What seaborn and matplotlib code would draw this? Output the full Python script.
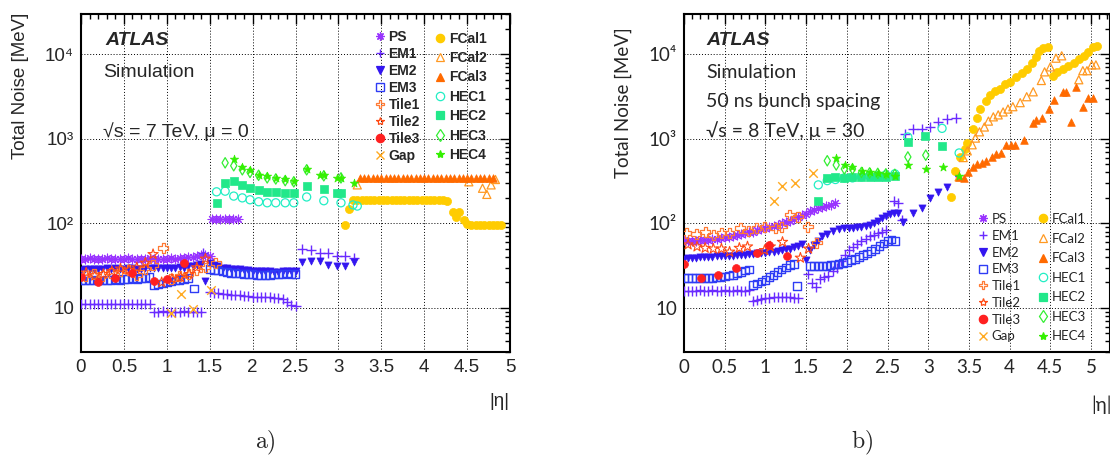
import matplotlib
matplotlib.use("Agg")
import matplotlib.pyplot as plt
import seaborn as sns
import numpy as np
from matplotlib.lines import Line2D
from matplotlib.ticker import MultipleLocator, LogLocator, NullFormatter

# ---------------- panel a): sqrt(s) = 7 TeV, mu = 0 ----------------
ps_a_eta = [0.0, 0.05, 0.1, 0.15, 0.2, 0.25, 0.3, 0.35, 0.4, 0.45, 0.5, 0.55, 0.6, 0.65, 0.7, 0.75,
            0.8, 0.85, 0.9, 0.95, 1.0, 1.05, 1.1, 1.15, 1.2, 1.25, 1.3, 1.35, 1.4, 1.45, 1.5,
            1.525, 1.575, 1.625, 1.675, 1.725, 1.775, 1.825]
ps_a = [38, 38, 39, 38, 38, 38, 39, 38, 38, 38, 38, 39, 38, 38, 38, 38, 39, 38, 38, 38,
        38, 39, 38, 39, 39, 40, 40, 41, 42, 42, 41, 112, 114, 113, 112, 113, 112, 111]
em1_a_eta = [0.0, 0.05, 0.1, 0.15, 0.2, 0.25, 0.3, 0.35, 0.4, 0.45, 0.5, 0.55, 0.6, 0.65, 0.7, 0.75, 0.8,
             0.85, 0.9, 0.95, 1.0, 1.05, 1.1, 1.15, 1.2, 1.25, 1.3, 1.35, 1.4, 1.425,
             1.5, 1.55, 1.6, 1.65, 1.7, 1.75, 1.8, 1.85, 1.9, 1.95, 2.0, 2.05, 2.1, 2.15, 2.2, 2.25, 2.3,
             2.35, 2.4, 2.45, 2.5, 2.58, 2.68, 2.78, 2.88, 2.98, 3.08, 3.18]
em1_a = [11.2, 11.1, 11.2, 11.1, 11.1, 11.2, 11.1, 11.1, 11.0, 11.1, 11.1, 11.0, 11.1, 11.1, 11.0, 11.1, 11.0,
         9.0, 9.0, 9.1, 9.0, 8.9, 9.0, 9.0, 9.1, 9.0, 9.0, 8.9, 9.0, 45,
         15.5, 15.0, 14.8, 14.6, 14.4, 14.3, 14.2, 14.0, 13.9, 13.8, 13.6, 13.5, 13.5, 13.4, 13.3, 13.2, 13.2,
         12.6, 11.8, 10.8, 10.4, 50, 48, 45, 45, 41, 41, 39]
em2_a_eta = [0.0, 0.05, 0.1, 0.15, 0.2, 0.25, 0.3, 0.35, 0.4, 0.45, 0.5, 0.55, 0.6, 0.65, 0.7, 0.75, 0.8,
             0.85, 0.9, 0.95, 1.0, 1.05, 1.1, 1.15, 1.2, 1.25, 1.3, 1.35, 1.4, 1.45,
             1.5, 1.55, 1.6, 1.65, 1.7, 1.75, 1.8, 1.85, 1.9, 1.95, 2.0, 2.05, 2.1, 2.15, 2.2, 2.25,
             2.3, 2.35, 2.4, 2.45, 2.5, 2.58, 2.68, 2.78, 2.88, 2.98, 3.08, 3.18]
em2_a = [28, 28.5, 29, 29, 29, 29, 29.5, 29, 29.5, 29, 29, 29.5, 29.5, 29, 29, 29.5, 30, 29.5, 30, 30,
         29.5, 30, 30, 30.5, 30, 31, 31, 32, 33, 21,
         34, 32, 31, 30, 30, 29, 29, 28.5, 28, 28, 27.5, 27.5, 27, 27, 27, 26.5, 26.5, 27, 27, 27.5, 27,
         35, 36, 36, 32, 31, 31, 35]
em3_a_eta = [0.0, 0.05, 0.1, 0.15, 0.2, 0.25, 0.3, 0.35, 0.4, 0.45, 0.5, 0.55, 0.6, 0.65, 0.7, 0.75, 0.8,
             0.85, 0.9, 0.95, 1.0, 1.05, 1.1, 1.15, 1.2, 1.25, 1.32,
             1.5, 1.55, 1.6, 1.65, 1.7, 1.75, 1.8, 1.85, 1.9, 1.95, 2.0, 2.05, 2.1, 2.15, 2.2, 2.25,
             2.3, 2.35, 2.4, 2.45, 2.5]
em3_a = [21, 21, 21, 21.5, 21, 21, 21.5, 21.5, 22, 21.5, 22, 22, 22.5, 22, 22.5, 22.5, 23,
         18.5, 19, 19.5, 20, 20.5, 21, 21.5, 22, 22.5, 17,
         29, 28, 27.5, 27, 26.5, 26, 26, 25.5, 25, 25, 25, 24.5, 24.5, 24.5, 24.5, 25, 25, 25, 25.5, 25, 25]
tile1_a_eta = [0.05, 0.15, 0.25, 0.35, 0.46, 0.55, 0.65, 0.75, 0.84, 0.96, 1.05, 1.15, 1.25, 1.35, 1.45, 1.57]
tile1_a = [24, 25, 24, 26, 27, 28, 24.5, 29, 32, 51, 22, 24, 25, 28, 30, 34]
tile2_a_eta = [0.06, 0.16, 0.26, 0.36, 0.46, 0.56, 0.65, 0.75, 0.84, 0.94, 1.06, 1.16, 1.26, 1.35, 1.45]
tile2_a = [26, 24, 25, 27, 29, 28, 30, 34, 43, 20, 22, 23, 25, 30, 38]
tile3_a_eta = [0.0, 0.2, 0.4, 0.6, 0.85, 1.0, 1.2]
tile3_a = [23, 20, 22.6, 26, 21, 22, 34]
gap_a_eta = [1.05, 1.16, 1.31, 1.51]
gap_a = [8.7, 14.6, 9.7, 16.3]
fcal1_a_eta = [3.08, 3.12, 3.17, 3.22, 3.27, 3.32, 3.37, 3.42, 3.47, 3.52, 3.57, 3.62, 3.67, 3.72, 3.77,
               3.82, 3.87, 3.92, 3.97, 4.02, 4.07, 4.12, 4.17, 4.22, 4.27, 4.33, 4.37, 4.41, 4.46,
               4.5, 4.55, 4.6, 4.65, 4.7, 4.75, 4.8, 4.85, 4.9]
fcal1_a = [96, 148, 188, 190, 191, 190, 191, 190, 190, 191, 190, 190, 190, 191, 190, 190, 189, 190, 190,
           190, 189, 190, 188, 188, 185, 136, 120, 136, 110, 97, 96, 96, 96, 96, 96, 96, 96, 96]
fcal2_a_eta = [3.22, 4.52, 4.68, 4.73, 4.78, 4.83]
fcal2_a = [285, 310, 260, 220, 285, 330]
fcal3_a_eta = [3.25, 3.3, 3.35, 3.4, 3.45, 3.5, 3.55, 3.6, 3.65, 3.7, 3.75, 3.8, 3.85, 3.9, 3.95, 4.0,
               4.05, 4.1, 4.15, 4.2, 4.25, 4.3, 4.35, 4.4, 4.45, 4.5, 4.55, 4.6, 4.65, 4.7, 4.75, 4.8]
fcal3_a = [345, 345, 346, 345, 344, 345, 345, 346, 345, 345, 344, 345, 345, 346, 345, 345,
           345, 344, 345, 345, 346, 345, 345, 345, 344, 345, 345, 346, 345, 345, 344, 345]
hec1_a_eta = [1.58, 1.68, 1.78, 1.88, 1.97, 2.07, 2.17, 2.27, 2.38, 2.48, 2.63, 2.83, 3.03, 3.17, 3.22]
hec1_a = [236, 240, 210, 200, 190, 180, 175, 175, 175, 175, 205, 185, 175, 165, 160]
hec2_a_eta = [1.58, 1.68, 1.78, 1.88, 1.97, 2.07, 2.17, 2.27, 2.38, 2.48, 2.63, 2.83, 2.98, 3.03]
hec2_a = [175, 300, 318, 285, 265, 250, 235, 235, 230, 230, 275, 255, 230, 230]
hec3_a_eta = [1.68, 1.78, 1.88, 1.97, 2.07, 2.17, 2.27, 2.38, 2.48, 2.63, 2.83, 3.03]
hec3_a = [520, 480, 430, 400, 370, 345, 335, 320, 310, 430, 365, 345]
hec4_a_eta = [1.78, 1.88, 1.97, 2.07, 2.17, 2.27, 2.38, 2.48, 2.63, 2.78, 2.83, 2.98, 3.03, 3.18]
hec4_a = [580, 470, 430, 370, 360, 345, 335, 320, 440, 375, 375, 345, 345, 300]

# ---------------- panel b): sqrt(s) = 8 TeV, mu = 30 ----------------
ps_b_eta = [0.0, 0.05, 0.1, 0.15, 0.2, 0.25, 0.3, 0.35, 0.4, 0.45, 0.5, 0.55, 0.6, 0.65, 0.7, 0.75,
            0.8, 0.85, 0.9, 0.95, 1.0, 1.05, 1.1, 1.15, 1.2, 1.25, 1.3, 1.35, 1.4, 1.45, 1.5,
            1.55, 1.6, 1.65, 1.7, 1.75, 1.8, 1.85]
ps_b = [63, 62, 62, 62, 63, 63, 64, 65, 66, 67, 68, 69, 71, 72, 74, 76, 78, 80, 83, 85,
        88, 90, 93, 96, 100, 103, 107, 112, 118, 124, 130, 138, 145, 150, 155, 160, 166, 172]
em1_b_eta = [0.0, 0.05, 0.1, 0.15, 0.2, 0.25, 0.3, 0.35, 0.4, 0.45, 0.5, 0.55, 0.6, 0.65, 0.7, 0.75, 0.8,
             0.85, 0.9, 0.95, 1.0, 1.05, 1.1, 1.15, 1.2, 1.25, 1.3, 1.35, 1.4,
             1.52, 1.57, 1.62, 1.67, 1.72, 1.77, 1.83, 1.88, 1.93, 1.98, 2.03, 2.08, 2.13, 2.18,
             2.23, 2.28, 2.33, 2.38, 2.43, 2.48, 2.58, 2.63, 2.68,
             2.71, 2.81, 2.92, 3.02, 3.12, 3.23, 3.34]
em1_b = [15.8, 15.9, 16, 16, 16.1, 16, 16, 16.1, 16, 16, 16.1, 16, 16, 16.1, 16, 16, 16.2,
         12, 12.3, 12.6, 12.9, 13.2, 13.4, 13.6, 13.6, 13.5, 13.3, 13.1, 13.0,
         25, 19.5, 17.5, 22, 23, 24, 27, 30, 36, 42, 48, 53, 57, 62, 66, 70, 73, 76, 80, 83,
         185, 175, 110, 1140, 1320, 1320, 1390, 1600, 1720, 1780]
em2_b_eta = [0.0, 0.05, 0.1, 0.15, 0.2, 0.25, 0.3, 0.35, 0.4, 0.45, 0.5, 0.55, 0.6, 0.65, 0.7, 0.75,
             0.8, 0.85, 0.9, 0.95, 1.0, 1.05, 1.1, 1.15, 1.2, 1.25, 1.3, 1.35, 1.4, 1.45,
             1.5, 1.55, 1.6, 1.65, 1.7, 1.76, 1.83, 1.9, 1.97, 2.03, 2.08, 2.13, 2.18, 2.23,
             2.28, 2.33, 2.38, 2.43, 2.48, 2.53, 2.58, 2.63,
             2.69, 2.81, 2.92, 3.02, 3.12, 3.23, 3.34]
em2_b = [38, 38.5, 39, 39, 39.5, 39.5, 40, 40, 40.5, 40.5, 41, 41, 41.5, 42, 42, 42.5, 43, 43.5, 44, 44.5,
         45, 45.5, 46, 47, 48, 49, 50, 52, 54, 57,
         37, 48, 55, 62, 70, 75, 82, 86, 88, 88, 89, 90, 91, 93, 96, 100, 106, 115, 122, 128, 133, 133,
         104, 133, 152, 200, 235, 270, 385]
em3_b_eta = [0.0, 0.05, 0.1, 0.15, 0.2, 0.25, 0.3, 0.35, 0.4, 0.45, 0.5, 0.55, 0.6, 0.65, 0.7, 0.75, 0.8,
             0.85, 0.9, 0.95, 1.0, 1.05, 1.1, 1.15, 1.2, 1.25, 1.3, 1.35, 1.39,
             1.55, 1.6, 1.65, 1.7, 1.75, 1.8, 1.85, 1.9, 1.95, 2.0, 2.05, 2.1, 2.15, 2.2, 2.25,
             2.3, 2.35, 2.4, 2.45, 2.5, 2.55, 2.6]
em3_b = [22.6, 22.5, 22.5, 22.6, 22.4, 22.5, 22.6, 22.7, 22.8, 23, 23.5, 24, 24.6, 25.5, 26.5, 27.5, 28.5,
         18.7, 19.5, 20.5, 21.5, 23, 24.5, 26.5, 28.5, 30, 32, 33, 18,
         31, 31, 31, 31.5, 31.5, 32, 32.5, 33, 34, 35, 37, 38, 40, 42, 44, 47, 50, 54, 58, 62, 64, 62]
tile1_b_eta = [0.03, 0.15, 0.26, 0.36, 0.46, 0.56, 0.69, 0.79, 0.89, 0.99, 1.12, 1.2, 1.3, 1.4, 1.52, 1.63]
tile1_b = [77, 75, 79, 73, 77, 77, 88, 81, 88, 91, 88, 91, 126, 120, 91, 59]
tile2_b_eta = [0.05, 0.16, 0.26, 0.36, 0.46, 0.56, 0.68, 0.78, 0.99, 1.06, 1.21, 1.43, 1.53]
tile2_b = [56, 53, 51, 50, 50, 46, 51, 53, 48, 53, 60, 39, 50]
tile3_b_eta = [0.0, 0.21, 0.42, 0.64, 0.9, 1.04, 1.26]
tile3_b = [33, 22.6, 24.6, 29.7, 45, 55, 41]
gap_b_eta = [1.1, 1.21, 1.36, 1.58]
gap_b = [185, 280, 300, 390]
fcal1_b_eta = [3.28, 3.33, 3.39, 3.45, 3.48, 3.55, 3.6, 3.64, 3.71, 3.76, 3.82, 3.88, 3.94, 4.0, 4.08,
               4.15, 4.21, 4.28, 4.32, 4.36, 4.41, 4.47,
               4.53, 4.58, 4.65, 4.72, 4.79, 4.85, 4.91, 4.96, 5.02, 5.07]
fcal1_b = [205, 420, 610, 760, 890, 1310, 1780, 2250, 2800, 3330, 3700, 3900, 4400, 4700, 5400,
           6000, 6700, 7900, 9300, 11000, 11800, 12100,
           5500, 6200, 6700, 7300, 7900, 8800, 9500, 10600, 12100, 12500]
fcal2_b_eta = [3.38, 3.43, 3.48, 3.54, 3.58, 3.63, 3.69, 3.74, 3.8, 3.86, 3.92, 3.98, 4.04, 4.13, 4.21,
               4.29, 4.39, 4.43, 4.5, 4.57, 4.64, 4.85, 4.9, 4.95, 5.01, 5.06]
fcal2_b = [355, 600, 720, 850, 1020, 1210, 1380, 1620, 1820, 1920, 2080, 2250, 2400, 2680, 3150,
           3600, 4900, 6200, 7100, 9000, 9600, 5000, 6400, 6400, 7500, 7500]
fcal3_b_eta = [3.38, 3.44, 3.49, 3.55, 3.6, 3.66, 3.71, 3.78, 3.83, 3.89, 3.96, 4.02, 4.07, 4.18, 4.29,
               4.33, 4.4, 4.48, 4.55, 4.65, 4.69, 4.75, 4.82, 4.9, 4.96, 5.02]
fcal3_b = [355, 345, 400, 470, 500, 520, 540, 610, 660, 680, 850, 850, 850, 970, 1550,
           1680, 1780, 2250, 2900, 3600, 3600, 1600, 4100, 2400, 3050, 3050]
hec1_b_eta = [1.65, 1.76, 1.86, 1.97, 2.07, 2.18, 2.28, 2.38, 2.48, 2.59, 2.75, 3.17, 3.38]
hec1_b = [285, 320, 330, 345, 345, 355, 365, 365, 375, 385, 1050, 1330, 680]
hec2_b_eta = [1.65, 1.76, 1.86, 1.97, 2.07, 2.18, 2.28, 2.38, 2.48, 2.59, 2.75, 2.96, 3.17]
hec2_b = [185, 345, 350, 345, 350, 350, 350, 355, 355, 360, 920, 1080, 820]
hec3_b_eta = [1.76, 1.87, 1.97, 2.07, 2.18, 2.28, 2.38, 2.48, 2.59, 2.75, 2.97]
hec3_b = [550, 490, 440, 440, 400, 395, 390, 385, 380, 610, 640]
hec4_b_eta = [1.87, 1.98, 2.07, 2.19, 2.28, 2.38, 2.48, 2.59, 2.75, 2.97, 3.18, 3.38]
hec4_b = [600, 490, 460, 420, 400, 390, 385, 365, 490, 440, 470, 365]

xtick_vals = [0, 0.5, 1, 1.5, 2, 2.5, 3, 3.5, 4, 4.5, 5]
xtick_labels = ["0", "0.5", "1", "1.5", "2", "2.5", "3", "3.5", "4", "4.5", "5"]
ytick_vals = [10, 100, 1000, 10000]
ytick_labels = ["10", "10²", "10³", "10⁴"]

# marker, colour, open face, size, line width
STYLE = {
    "PS":    ((8, 2, 0), "#9933ff", False, 40, 0.8),
    "EM1":   ("+", "#6a2bff", False, 45, 1.0),
    "EM2":   ("v", "#3316f0", False, 26, 0.5),
    "EM3":   ("s", "#2e3cf5", True, 30, 1.0),
    "Tile1": ("P", "#ff7a33", True, 50, 0.9),
    "Tile2": ("*", "#ff4a14", True, 60, 0.8),
    "Tile3": ("o", "#ff2020", False, 32, 0.5),
    "Gap":   ("x", "#ffaa22", False, 38, 1.0),
    "FCal1": ("o", "#ffcc00", False, 34, 0.5),
    "FCal2": ("^", "#ff9922", True, 34, 0.9),
    "FCal3": ("^", "#ff6a00", False, 30, 0.5),
    "HEC1":  ("o", "#22eec4", True, 34, 0.9),
    "HEC2":  ("s", "#22e88a", False, 30, 0.5),
    "HEC3":  ("d", "#33ee33", True, 28, 0.9),
    "HEC4":  ("*", "#33f000", False, 40, 0.5),
}
COL1 = ["PS", "EM1", "EM2", "EM3", "Tile1", "Tile2", "Tile3", "Gap"]
COL2 = ["FCal1", "FCal2", "FCal3", "HEC1", "HEC2", "HEC3", "HEC4"]

panel_a = {"PS": (ps_a_eta, ps_a), "EM1": (em1_a_eta, em1_a), "EM2": (em2_a_eta, em2_a),
           "EM3": (em3_a_eta, em3_a), "Tile1": (tile1_a_eta, tile1_a), "Tile2": (tile2_a_eta, tile2_a),
           "Tile3": (tile3_a_eta, tile3_a), "Gap": (gap_a_eta, gap_a), "FCal1": (fcal1_a_eta, fcal1_a),
           "FCal2": (fcal2_a_eta, fcal2_a), "FCal3": (fcal3_a_eta, fcal3_a), "HEC1": (hec1_a_eta, hec1_a),
           "HEC2": (hec2_a_eta, hec2_a), "HEC3": (hec3_a_eta, hec3_a), "HEC4": (hec4_a_eta, hec4_a)}
panel_b = {"PS": (ps_b_eta, ps_b), "EM1": (em1_b_eta, em1_b), "EM2": (em2_b_eta, em2_b),
           "EM3": (em3_b_eta, em3_b), "Tile1": (tile1_b_eta, tile1_b), "Tile2": (tile2_b_eta, tile2_b),
           "Tile3": (tile3_b_eta, tile3_b), "Gap": (gap_b_eta, gap_b), "FCal1": (fcal1_b_eta, fcal1_b),
           "FCal2": (fcal2_b_eta, fcal2_b), "FCal3": (fcal3_b_eta, fcal3_b), "HEC1": (hec1_b_eta, hec1_b),
           "HEC2": (hec2_b_eta, hec2_b), "HEC3": (hec3_b_eta, hec3_b), "HEC4": (hec4_b_eta, hec4_b)}

sns.set_style("white")
plt.rcParams['font.family'] = ['Liberation Sans', 'DejaVu Sans']

W, H = 1110, 457
fig = plt.figure(figsize=(W / 100, H / 100), dpi=100)


def px_box(x0, y0, x1, y1):
    return [x0 / W, 1 - y1 / H, (x1 - x0) / W, (y1 - y0) / H]


def handle(name):
    m, c, is_open, s, lw = STYLE[name]
    return Line2D([], [], ls="none", marker=m, color=c, mec=c, mfc="none" if is_open else c,
                  ms=6, mew=max(lw, 0.9))


def draw_panel(ax, data, xmax, fam, bold, lsize, leg1, leg2, sp1, sp2):
    for name in COL1 + COL2:
        eta, noise = data[name]
        m, c, is_open, s, lw = STYLE[name]
        sns.scatterplot(x=eta, y=noise, ax=ax, marker=m, color=c, edgecolor=c,
                        s=s, linewidth=lw, legend=False, zorder=3)
        if is_open:
            ax.collections[-1].set_facecolor("none")
    ax.set_yscale("log")
    ax.set_ylim(3, 3e4)
    ax.set_xlim(0, xmax)
    ax.set_xticks(xtick_vals)
    ax.set_xticklabels(xtick_labels, family=fam)
    ax.xaxis.set_minor_locator(MultipleLocator(0.1))
    ax.set_yticks(ytick_vals)
    ax.set_yticklabels(ytick_labels, family=fam)
    ax.yaxis.set_minor_locator(LogLocator(base=10, subs=np.arange(2, 10)))
    ax.yaxis.set_minor_formatter(NullFormatter())
    ax.tick_params(which="both", direction="in", top=True, right=True, width=1.0, color="black")
    ax.tick_params(which="major", length=7, labelsize=13.5, pad=5)
    ax.tick_params(which="minor", length=3.5)
    ax.grid(True, which="major", color="black", linestyle=(0, (1, 2)), linewidth=0.7)
    for sp in ax.spines.values():
        sp.set_linewidth(1.5)
        sp.set_color("black")
    ax.set_xlabel("")
    ax.set_ylabel("")
    weight = "bold" if bold else "normal"
    l1 = ax.legend([handle(n) for n in COL1], COL1, loc="upper left", bbox_to_anchor=leg1,
                   frameon=False, borderpad=0, borderaxespad=0, handlelength=0.8, handletextpad=0.25,
                   labelspacing=sp1, prop={"family": fam, "size": lsize, "weight": weight})
    ax.add_artist(l1)
    ax.legend([handle(n) for n in COL2], COL2, loc="upper left", bbox_to_anchor=leg2,
              frameon=False, borderpad=0, borderaxespad=0, handlelength=0.8, handletextpad=0.25,
              labelspacing=sp2, prop={"family": fam, "size": lsize, "weight": weight})


fam_a = ["Liberation Sans", "DejaVu Sans"]
fam_b = ["Lato", "DejaVu Sans"]

ax_a = fig.add_axes(px_box(81, 14, 510, 352))
draw_panel(ax_a, panel_a, 5.0, fam_a, True, 10, (0.683, 0.954), (0.823, 0.948), 0.22, 0.39)
ax_b = fig.add_axes(px_box(684, 14, 1110, 352))
draw_panel(ax_b, panel_b, 426 / 81.4, fam_b, False, 9.5, (0.690, 0.411), (0.831, 0.411), 0.36, 0.57)


def ftext(x, y, s, **kw):
    fig.text(x / W, 1 - y / H, s, **kw)


# panel a annotations
ftext(105, 45, "ATLAS", fontsize=14, weight="bold", style="italic", family=fam_a, va="baseline")
ftext(103, 77, "Simulation", fontsize=14, family=fam_a, va="baseline")
ftext(103, 137, "√s = 7 TeV, μ = 0", fontsize=14, family=fam_a, va="baseline")
ftext(21, 13, "Total Noise [MeV]", fontsize=13.5, rotation=90, ha="center", va="top", family=fam_a)
ftext(509, 402, "|η|", fontsize=13.5, ha="right", va="center", family=fam_a)
ftext(265, 443, r"$\mathrm{a)}$", fontsize=17, ha="center", va="center", math_fontfamily="cm")

# panel b annotations
ftext(706, 45, "ATLAS", fontsize=14, weight="bold", style="italic", family=fam_a, va="baseline")
ftext(706, 78, "Simulation", fontsize=14, family=fam_b, va="baseline")
ftext(706, 107, "50 ns bunch spacing", fontsize=14, family=fam_b, va="baseline")
ftext(706, 137, "√s = 8 TeV, μ = 30", fontsize=14, family=fam_b, va="baseline")
ftext(623, 27, "Total Noise [MeV]", fontsize=13.5, rotation=90, ha="center", va="top", family=fam_b)
ftext(1112, 405, "|η|", fontsize=13.5, ha="right", va="center", family=fam_b)
ftext(862, 443, r"$\mathrm{b)}$", fontsize=17, ha="center", va="center", math_fontfamily="cm")

fig.savefig("out.png", dpi=100)
